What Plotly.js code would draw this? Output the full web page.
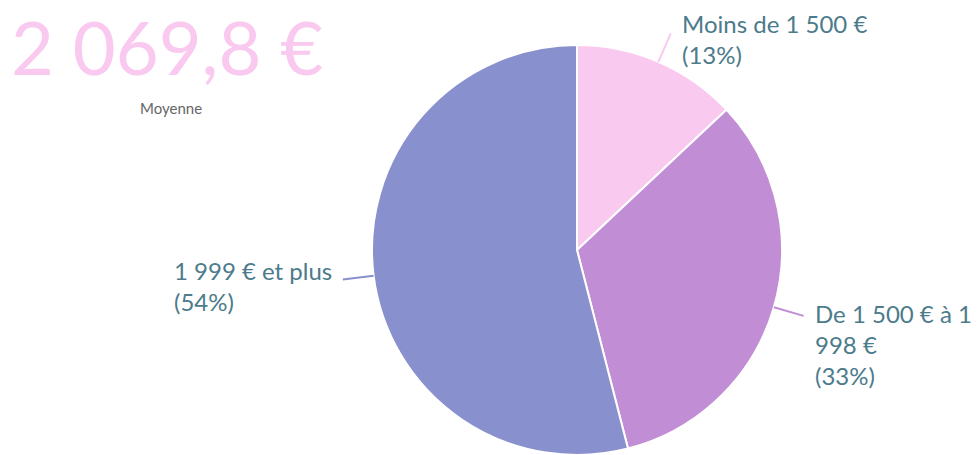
<!DOCTYPE html>
<html><head><meta charset="utf-8">
<script src="https://cdn.plot.ly/plotly-3.0.1.min.js"></script>
<style>html,body{margin:0;padding:0;background:#fff;}#chart{width:977px;height:455px;}</style>
</head><body><div id="chart"></div>
<script>
// ---- data ----
const categories = ['Moins de 1 500 €', 'De 1 500 € à 1 998 €', '1 999 € et plus'];
const displayLabels = ['Moins de 1 500 €', 'De 1 500 € à 1<br>998 €', '1 999 € et plus'];
const values = [13, 33, 54];
const sliceColors = ['#F9C9EF', '#C18ED6', '#8891CE'];
const kpiValue = '2 069,8 €';
const kpiLabel = 'Moyenne';

// ---- geometry / style (pixels) ----
const W = 977, H = 455;
const cx = 577, cy = 250, r = 205;
const labelShift = [-10, -3, -9];   // first text line vs. leader end
const font = 'Lato, "Open Sans", sans-serif';
const textColor = '#4C7B8B';
const fs = 24, lineH = fs * 1.3;

const px = x => x / W;
const py = y => 1 - y / H;

const total = values.reduce((a, b) => a + b, 0);
const shapes = [], annotations = [];
let cum = 0;
values.forEach((v, i) => {
  const mid = (cum + v / 2) / total * 2 * Math.PI;
  cum += v;
  const sx = cx + r * Math.sin(mid), sy = cy - r * Math.cos(mid);
  const ex = cx + (r + 31) * Math.sin(mid), ey = cy - (r + 31) * Math.cos(mid);
  shapes.push({type: 'line', xref: 'paper', yref: 'paper',
    x0: px(sx), y0: py(sy), x1: px(ex), y1: py(ey),
    line: {color: sliceColors[i], width: 2}});
  const right = Math.sin(mid) >= 0;
  const pct = Math.round(v / total * 100);
  const text = displayLabels[i] + '<br>(' + pct + '%)';
  const nLines = text.split('<br>').length;
  const firstY = ey + labelShift[i];
  annotations.push({xref: 'paper', yref: 'paper', showarrow: false,
    x: px(ex + (right ? 9 : -9)), y: py(firstY + (nLines - 1) * lineH / 2),
    xanchor: right ? 'left' : 'right', yanchor: 'middle', align: 'left',
    text: text,
    font: {family: font, size: fs, color: textColor}});
});

annotations.push({xref: 'paper', yref: 'paper', showarrow: false,
  x: px(9), y: py(0), xanchor: 'left', yanchor: 'top',
  text: kpiValue, font: {family: font, size: 74, color: '#F9C9EF'}});
annotations.push({xref: 'paper', yref: 'paper', showarrow: false,
  x: px(171), y: py(108), xanchor: 'center', yanchor: 'middle',
  text: kpiLabel, font: {family: font, size: 15, color: '#666666'}});

const trace = {
  type: 'pie', labels: categories, values: values,
  marker: {colors: sliceColors, line: {color: '#ffffff', width: 2}},
  sort: false, direction: 'clockwise', rotation: 0,
  textinfo: 'none', hoverinfo: 'label+percent', showlegend: false,
  domain: {x: [px(cx - r), px(cx + r)], y: [py(cy + r), py(cy - r)]}
};

Plotly.newPlot('chart', [trace], {
  width: W, height: H, margin: {l: 0, r: 0, t: 0, b: 0},
  paper_bgcolor: '#ffffff', showlegend: false,
  shapes: shapes, annotations: annotations
}, {displayModeBar: false, staticPlot: true});
</script></body></html>
